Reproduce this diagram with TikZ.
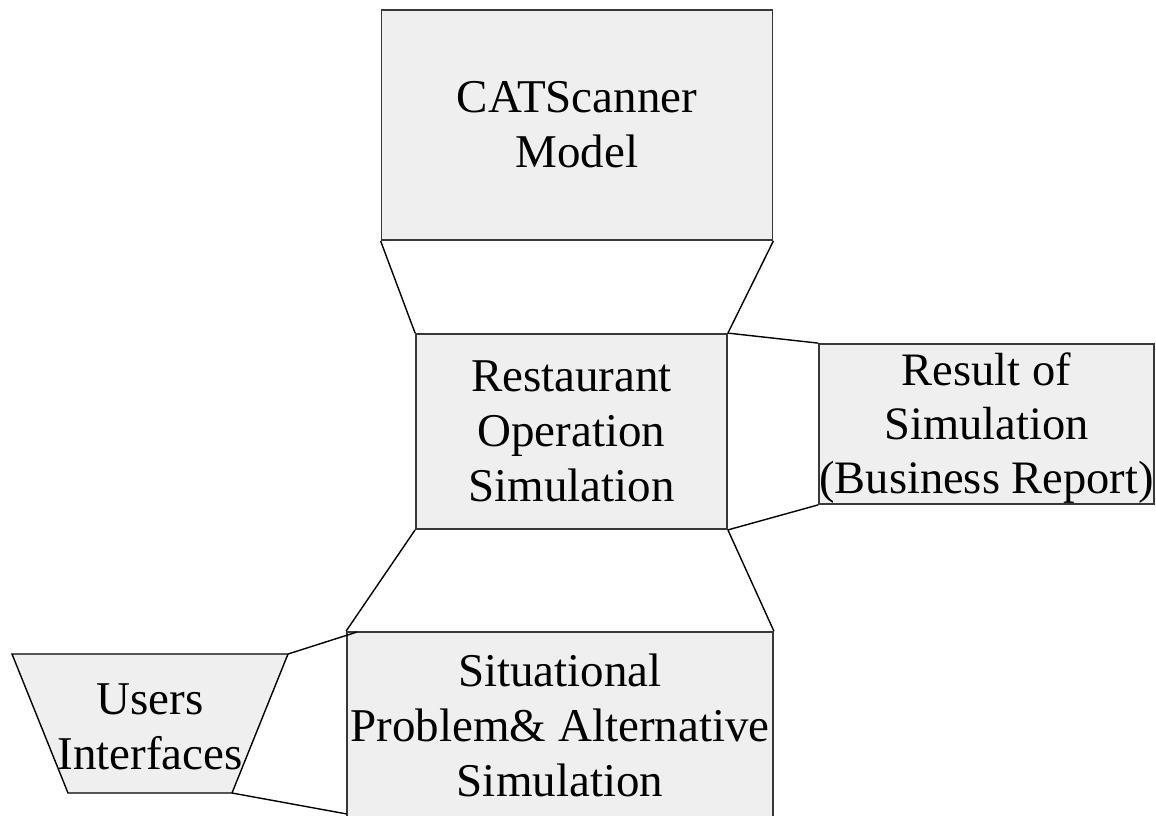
\documentclass[tikz,border=0pt]{standalone}
\usepackage{fontspec}
\setmainfont{Liberation Serif}
\begin{document}
\begin{tikzpicture}[x=1pt,y=-1pt,
  blockbox/.style={draw=black!78, line width=1.8pt, fill=boxgray, inner sep=0pt,
    align=center, font=\fontsize{47}{55}\selectfont},
  link/.style={draw=black, line width=1.4pt},
  label/.style={inner sep=0pt, align=center, font=\fontsize{47}{55}\selectfont}]
\definecolor{boxgray}{HTML}{EFEFEF}
\useasboundingbox (0,0) rectangle (1156,815);
\clip (0,0) rectangle (1156,815);

% main blocks
\node[blockbox, minimum width=391, minimum height=230] (cat) at (577,125) {CATScanner\\Model};
\node[blockbox, minimum width=311, minimum height=195] (ros) at (571.5,431.5) {Restaurant\\Operation\\Simulation};
\node[blockbox, minimum width=335, minimum height=160] (res) at (986.5,424) {};
\node[label, font=\fontsize{46.5}{54}\selectfont] (res-text) at (986.5,428) {Result of\\Simulation\\(Business Report)};
\node[blockbox, minimum width=426, minimum height=186] (sit) at (560,725) {Situational\\Problem\& Alternative\\Simulation};

% user interface trapezium
\coordinate (ui-tl) at (12,654);
\coordinate (ui-tr) at (288,654);
\coordinate (ui-br) at (232,793);
\coordinate (ui-bl) at (68,793);
\draw[draw=black, line width=1.4pt, fill=boxgray, line join=miter]
  (ui-tl) -- (ui-tr) -- (ui-br) -- (ui-bl) -- cycle;
\node[label] (ui) at (150,727) {Users\\Interfaces};

% connectors
\coordinate (sit-in) at (357,632);
\coordinate (sit-low) at (347,814);
\draw[link] (cat.south west) -- (ros.north west);
\draw[link] (cat.south east) -- (ros.north east);
\draw[link] (ros.north east) -- (res.north west);
\draw[link] (ros.south east) -- (res.south west);
\draw[link] (ros.south west) -- (sit.north west);
\draw[link] (ros.south east) -- (sit.north east);
\draw[link] (ui-tr) -- (sit-in);
\draw[link] (ui-br) -- (sit-low);
\end{tikzpicture}
\end{document}
